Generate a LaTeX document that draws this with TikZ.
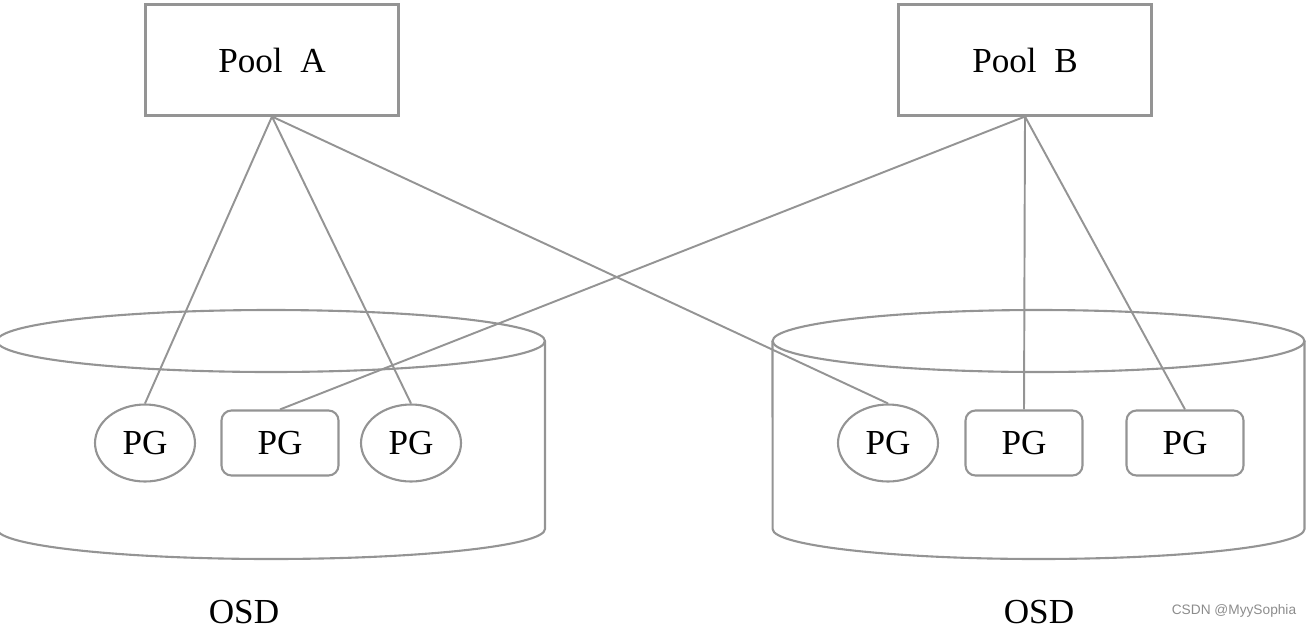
\documentclass[tikz,border=0pt]{standalone}
\usepackage{fontspec}
\setmainfont{Liberation Serif}
\newfontfamily\wmfont{Liberation Sans}
\usetikzlibrary{shapes.geometric}

\begin{document}
\begin{tikzpicture}[x=0.02cm,y=-0.02cm,
  pool/.style={draw=black!42,line width=1.2pt,minimum width=5.06cm,minimum height=2.22cm,inner sep=0pt,font=\fontsize{20}{24}\selectfont},
  pgell/.style={draw=black!42,line width=1.2pt,ellipse,minimum width=2cm,minimum height=1.54cm,inner sep=0pt,font=\fontsize{20}{24}\selectfont},
  pgbox/.style={draw=black!42,line width=1.2pt,rounded corners=0.2cm,minimum width=2.34cm,minimum height=1.3cm,inner sep=0pt,font=\fontsize{20}{24}\selectfont},
  cyl/.style={draw=black!42,line width=1.2pt},
  link/.style={draw=black!42,line width=1.1pt},
  osd/.style={font=\fontsize{20}{24}\selectfont}]
\useasboundingbox (0,0) rectangle (1311,629);
% disks
\draw[cyl] (271,341) ellipse [x radius=5.48cm,y radius=0.62cm];
\draw[cyl] (545,341) -- (545,529) arc[start angle=0,end angle=-180,x radius=5.48cm,y radius=0.6cm] -- (-3,341);
\draw[cyl] (1038.5,341) ellipse [x radius=5.32cm,y radius=0.62cm];
\draw[cyl] (1304.5,341) -- (1304.5,529) arc[start angle=0,end angle=-180,x radius=5.32cm,y radius=0.6cm] -- (772.5,341);
% pools
\node[pool] (pool_a) at (272,60) {Pool\ \ A};
\node[pool] (pool_b) at (1025,60) {Pool\ \ B};
% placement groups
\node[pgell] (pg_a1) at (145,443) {PG};
\node[pgbox] (pg_a2) at (280,443) {PG};
\node[pgell] (pg_a3) at (411,443) {PG};
\node[pgell] (pg_b1) at (888,443) {PG};
\node[pgbox] (pg_b2) at (1024,443) {PG};
\node[pgbox] (pg_b3) at (1185,443) {PG};
% links
\draw[link] (pool_a.south) -- (pg_a1.north);
\draw[link] (pool_a.south) -- (pg_a3.north);
\draw[link] (pool_a.south) -- (pg_b1.north);
\draw[link] (pool_b.south) -- (pg_a2.north);
\draw[link] (pool_b.south) -- (pg_b2.north);
\draw[link] (pool_b.south) -- (pg_b3.north);
% labels
\node[osd] (osd_a) at (244,612) {OSD};
\node[osd] (osd_b) at (1039,612) {OSD};
\node[font=\wmfont\fontsize{7.8}{9}\selectfont,text=black!45] (mark) at (1234,611) {CSDN @MyySophia};
\end{tikzpicture}
\end{document}
